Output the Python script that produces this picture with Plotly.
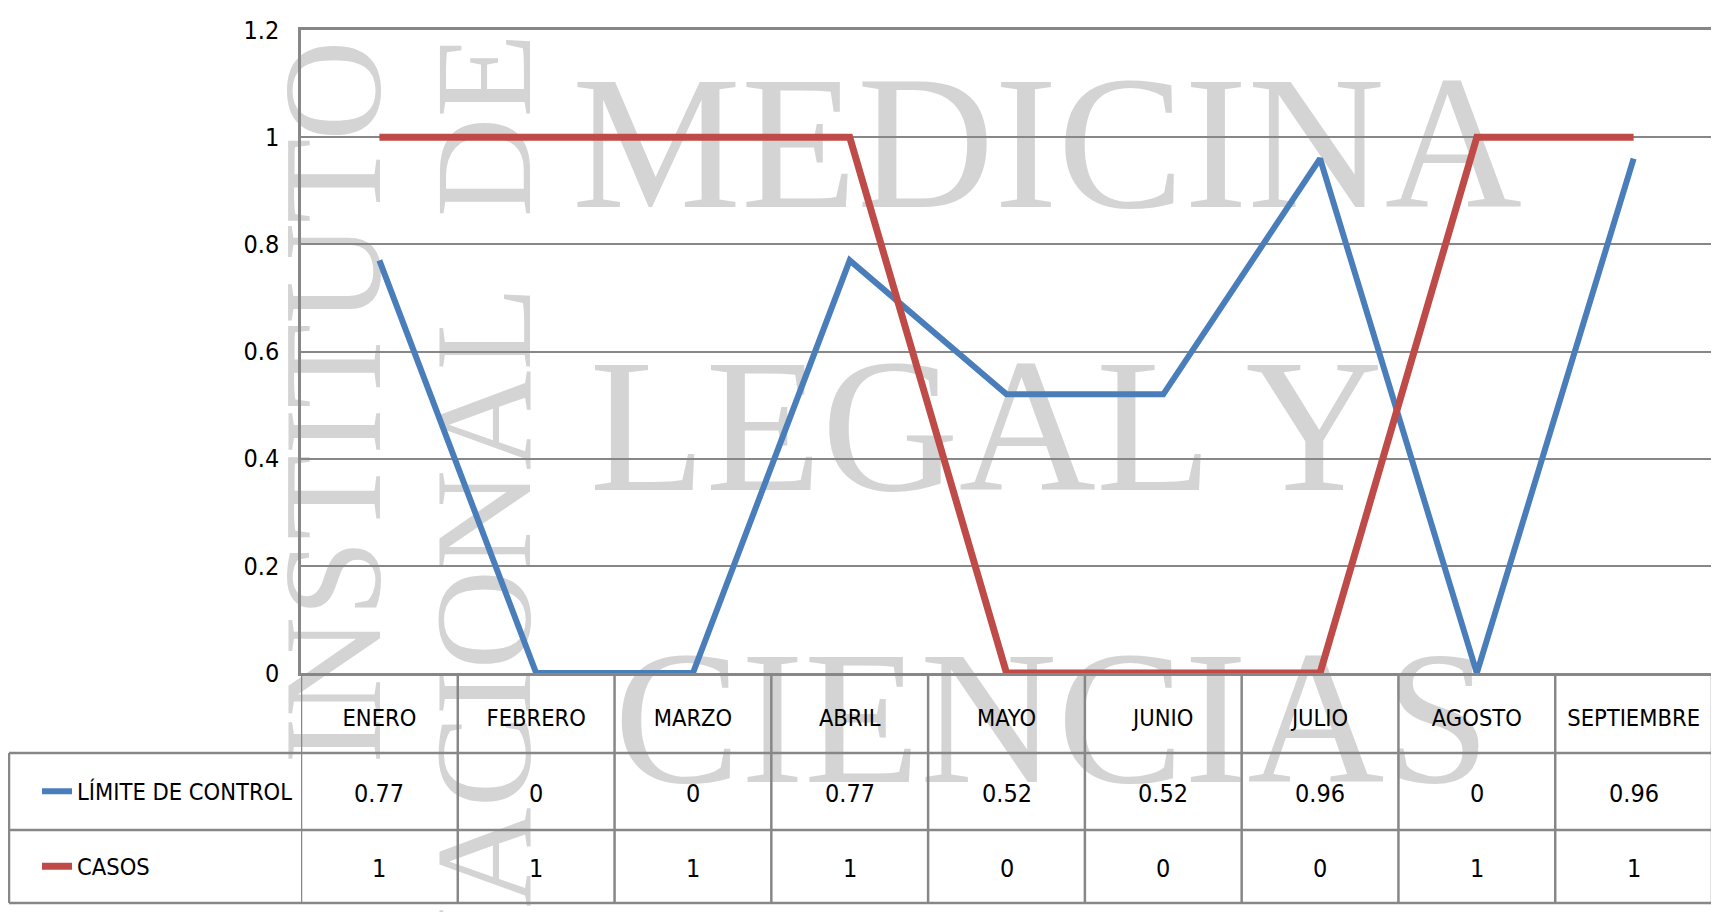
import plotly.graph_objects as go

# ---------------- data ----------------
months = ["ENERO", "FEBRERO", "MARZO", "ABRIL", "MAYO", "JUNIO", "JULIO", "AGOSTO", "SEPTIEMBRE"]
limite = [0.77, 0, 0, 0.77, 0.52, 0.52, 0.96, 0, 0.96]
casos = [1, 1, 1, 1, 0, 0, 0, 1, 1]
series_names = ["LÍMITE DE CONTROL", "CASOS"]
y_ticks = [0, 0.2, 0.4, 0.6, 0.8, 1, 1.2]
watermark_vertical = ["INSTITUTO", "NACIONAL\u00a0\u00a0DE"]
watermark_horizontal = ["MEDICINA", "LEGAL Y", "CIENCIAS", "FORENSES"]

# ---------------- geometry (page pixels) ----------------
OFF = 8                      # default page body margin
PW, PH = 1719, 912
W, H = PW - OFF, PH - OFF    # figure size
L, R, T, B = 301, 1712, 30, 673   # plot area in page pixels
ROW1, ROW2, ROW3 = 753, 830, 903
TABLE_LEFT = 9


def px_x(px):
    return (px - L) / (R - L)


def px_y(py):
    return (B - py) / (B - T)


BLUE = "#4A7EBB"
RED = "#BE4B48"
GRID = "#878787"
WM = "#D4D4D4"
FONT = "DejaVu Sans Condensed, Liberation Sans Narrow, sans-serif"
SERIF = "Liberation Serif, DejaVu Serif, serif"

fig = go.Figure()
fig.add_trace(go.Scatter(x=months, y=limite, mode="lines", name=series_names[0],
                         line=dict(color=BLUE, width=6), legend="legend"))
fig.add_trace(go.Scatter(x=months, y=casos, mode="lines", name=series_names[1],
                         line=dict(color=RED, width=7), legend="legend2"))

shapes = []
# watermark (drawn below everything)
vert_pos = [(318, 402, 139), (468, 520, 138)]
for txt, (cx, cy, fs) in zip(watermark_vertical, vert_pos):
    shapes.append(dict(type="rect", xref="paper", yref="paper", layer="below",
                       x0=px_x(cx - 1), x1=px_x(cx + 1), y0=px_y(cy + 1), y1=px_y(cy - 1),
                       line=dict(width=0), fillcolor="rgba(0,0,0,0)",
                       label=dict(text=txt, textangle=-90, textposition="middle center",
                                  font=dict(family=SERIF, size=fs, color=WM))))
horiz_pos = [(1047, 122), (986, 405), (1052, 697), (1068, 967)]
for txt, (cx, cy) in zip(watermark_horizontal, horiz_pos):
    shapes.append(dict(type="rect", xref="paper", yref="paper", layer="below",
                       x0=px_x(cx - 1), x1=px_x(cx + 1), y0=px_y(cy + 1), y1=px_y(cy - 1),
                       line=dict(width=0), fillcolor="rgba(0,0,0,0)",
                       label=dict(text=txt, textangle=0, textposition="middle center",
                                  font=dict(family=SERIF, size=190, color=WM))))

# data table grid
ln = dict(color=GRID, width=2.5)
n = len(months)
for k in range(n + 1):
    shapes.append(dict(type="line", xref="x", yref="paper", x0=k - 0.5, x1=k - 0.5,
                       y0=0, y1=px_y(ROW3), line=ln))
for py in (ROW1, ROW2, ROW3):
    shapes.append(dict(type="line", xref="paper", yref="paper", x0=px_x(TABLE_LEFT), x1=1,
                       y0=px_y(py), y1=px_y(py), line=ln))
shapes.append(dict(type="line", xref="paper", yref="paper", x0=px_x(TABLE_LEFT), x1=px_x(TABLE_LEFT),
                   y0=px_y(ROW1), y1=px_y(ROW3), line=ln))

annotations = []
for series, row_top, row_bot in ((limite, ROW1, ROW2), (casos, ROW2, ROW3)):
    for m, v in zip(months, series):
        annotations.append(dict(x=m, xref="x", y=px_y((row_top + row_bot) / 2 + 2), yref="paper",
                                text=f"{v:g}", showarrow=False,
                                font=dict(family=FONT, size=25, color="black"),
                                xanchor="center", yanchor="middle"))

legend_common = dict(xref="paper", yref="paper", xanchor="left", yanchor="middle",
                     bgcolor="rgba(0,0,0,0)", borderwidth=0,
                     font=dict(family=FONT, size=23.5, color="black"))

fig.update_layout(
    width=W, height=H,
    margin=dict(l=L - OFF, r=PW - R, t=T - OFF, b=PH - B, pad=0),
    paper_bgcolor="white", plot_bgcolor="rgba(0,0,0,0)",
    shapes=shapes, annotations=annotations,
    showlegend=True,
    legend=dict(x=px_x(37), y=px_y((ROW1 + ROW2) / 2), **legend_common),
    legend2=dict(x=px_x(37), y=px_y((ROW2 + ROW3) / 2), **legend_common),
    xaxis=dict(type="category", range=[-0.5, n - 0.5], showgrid=False, zeroline=False,
               showline=True, mirror=True, linecolor=GRID, linewidth=2.5, ticks="",
               tickfont=dict(family=FONT, size=23.5, color="black"), ticklabelstandoff=22),
    yaxis=dict(range=[0, 1.2], tickvals=y_ticks, showgrid=True, gridcolor=GRID, gridwidth=2,
               zeroline=False, showline=True, linecolor=GRID, linewidth=2.5, ticks="",
               tickfont=dict(family=FONT, size=25, color="black"), ticklabelstandoff=14),
)

fig.write_html("out.html")
